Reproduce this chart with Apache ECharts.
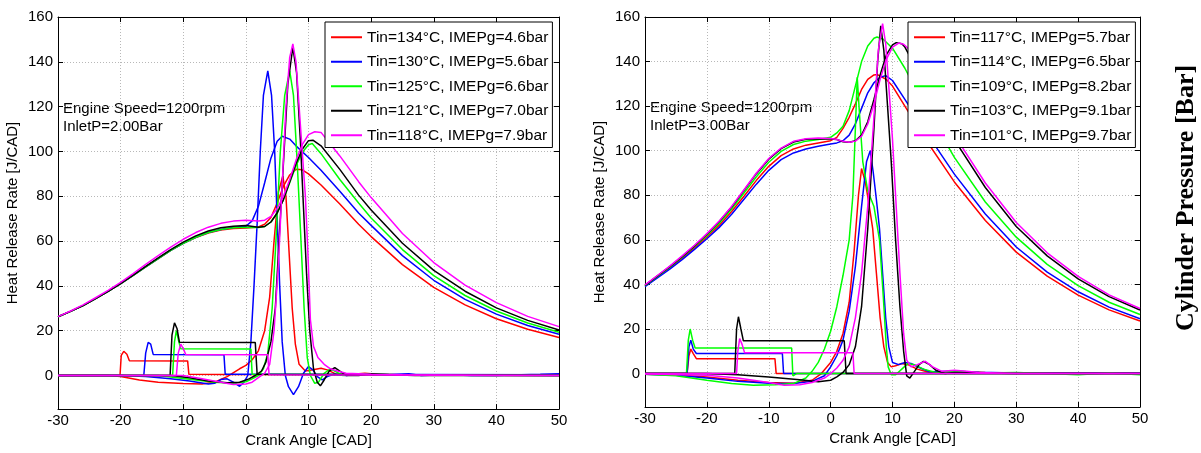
<!DOCTYPE html>
<html><head><meta charset="utf-8">
<script src="https://cdn.jsdelivr.net/npm/echarts@6/dist/echarts.min.js"></script>
<style>html,body{margin:0;padding:0;background:#fff}#c{width:1201px;height:453px}</style>
</head><body><div id="c"></div>
<script>
// ---------- labels ----------
const xTicks = [-30, -20, -10, 0, 10, 20, 30, 40, 50];
const yTicks = [0, 20, 40, 60, 80, 100, 120, 140, 160];
const colors = ['#ff0000', '#0000ff', '#00ff00', '#000000', '#ff00ff'];
const L_names = ['Tin=134°C, IMEPg=4.6bar', 'Tin=130°C, IMEPg=5.6bar', 'Tin=125°C, IMEPg=6.6bar', 'Tin=121°C, IMEPg=7.0bar', 'Tin=118°C, IMEPg=7.9bar'];
const R_names = ['Tin=117°C, IMEPg=5.7bar', 'Tin=114°C, IMEPg=6.5bar', 'Tin=109°C, IMEPg=8.2bar', 'Tin=103°C, IMEPg=9.1bar', 'Tin=101°C, IMEPg=9.7bar'];
const L_note = ['Engine Speed=1200rpm', 'InletP=2.00Bar'];
const R_note = ['Engine Speed=1200rpm', 'InletP=3.00Bar'];

// ---------- LEFT panel (InletP 2.00 bar): cylinder pressure ----------
const L_P_red = [[-30,26.2],[-28,28.6],[-26,31.2],[-24,34.3],[-22,37.5],[-20,41],[-18,44.7],[-16,48.5],[-14,52.2],[-12,55.8],[-10,59],[-8,61.6],[-6,63.6],[-4,64.9],[-2,65.6],[0,65.8],[1,66],[2,66.3],[3,67.5],[4,70.5],[5,77],[6,84.5],[7,89.5],[8,92],[9,91.8],[10,90],[12,85],[15,76.5],[18,67.5],[20,62],[25,49.5],[30,39.3],[35,31.5],[40,25.3],[45,20.6],[50,17]];
const L_P_blue = [[-30,26.2],[-28,28.6],[-26,31.2],[-24,34.3],[-22,37.5],[-20,41],[-18,44.7],[-16,48.5],[-14,52.2],[-12,55.8],[-10,59],[-8,61.7],[-6,63.8],[-4,65.2],[-2,66],[0,66.6],[1,69],[2,75.5],[3,86],[4,97],[5,104.5],[5.8,106.8],[7,105.5],[8,102.5],[10,97.3],[12,91.6],[15,82.2],[18,72.5],[20,67],[25,53.5],[30,42.5],[35,34],[40,27.4],[45,22.3],[50,18.4]];
const L_P_green = [[-30,26.2],[-28,28.6],[-26,31.2],[-24,34.3],[-22,37.5],[-20,41],[-18,44.7],[-16,48.5],[-14,52.2],[-12,55.8],[-10,59],[-8,61.7],[-6,63.8],[-4,65.2],[-2,65.9],[0,66.2],[2,66],[3,66.5],[4,68.5],[5,72.5],[6,78.5],[7,86],[8,93.5],[9,99.5],[10,103],[10.6,103.5],[12,99],[15,87.5],[18,77],[20,70.3],[25,56.2],[30,44.6],[35,35.7],[40,28.8],[45,23.4],[50,19.3]];
const L_P_black = [[-30,26.2],[-28,28.6],[-26,31.2],[-24,34.3],[-22,37.5],[-20,41],[-18,44.8],[-16,48.7],[-14,52.5],[-12,56.2],[-10,59.5],[-8,62.3],[-6,64.5],[-4,65.9],[-2,66.6],[0,66.9],[2,66.2],[3,66.5],[4,68.5],[5,72.5],[6,78.5],[7,86.5],[8,94.5],[9,101],[10,104.8],[10.7,105],[12,102.5],[15,92],[18,80.5],[20,73.9],[25,59],[30,46.9],[35,37.6],[40,30.2],[45,24.6],[50,20.3]];
const L_P_magenta = [[-30,26.3],[-28,28.8],[-26,31.5],[-24,34.7],[-22,38],[-20,41.6],[-18,45.5],[-16,49.6],[-14,53.5],[-12,57.3],[-10,60.8],[-8,63.8],[-6,66.2],[-4,67.9],[-2,68.9],[0,69.3],[2,69],[3,69.3],[4,71],[5,74.5],[6,80],[7,87.5],[8,96],[9,103],[10,107.5],[11,108.8],[12,108.5],[15,98],[18,86.5],[20,79.4],[25,63.4],[30,50.4],[35,40.3],[40,32.5],[45,26.4],[50,21.8]];

// ---------- LEFT panel: heat release rate ----------
const L_H_red = [[-30,0],[-22,0],[-20,-0.5],[-17,-2],[-14,-3],[-10,-3.6],[-7,-3.8],[-5,-3],[-3,-0.5],[-1,3],[0,4.5],[1,7],[2,11],[3,20],[3.8,35],[4.5,60],[5.2,82],[5.9,89],[6.4,80],[6.9,55],[7.4,30],[7.9,14],[8.5,5],[9.5,2],[10.5,2.5],[12,3.2],[13,2.5],[14.5,0.5],[17,0.5],[19,1],[21,0.5],[25,0.3],[30,0.3],[35,0.2],[40,0.2],[50,0.3]];
const L_H_blue = [[-30,0],[-20,0],[-16,-0.5],[-12,-1.5],[-9,-2.5],[-6,-3.8],[-5,-3.5],[-4,-1.8],[-3,-1.5],[-2,-3],[-1,-4.8],[-0.3,-3],[0.3,0],[0.8,15],[1.3,40],[1.8,68],[2.3,100],[2.8,125],[3.5,136],[4.1,125],[4.6,100],[5.0,70],[5.4,40],[5.8,15],[6.3,0],[6.8,-5],[7.6,-8.5],[8.4,-5],[9.2,1],[10,4],[10.7,2.5],[11.4,-0.5],[12.2,-2],[13,-0.5],[14,0.5],[16,0],[19,0.8],[21,0.5],[23,0.3],[26,0.8],[28,0],[32,0.3],[36,0],[40,0],[44,0.3],[47,0.5],[50,0.8]];
const L_H_green = [[-30,0],[-14,0],[-11,-1],[-8,-2],[-5,-3],[-2,-3.5],[0,-2.8],[1,-1.5],[2,0],[2.8,3],[3.5,10],[4.2,30],[4.8,60],[5.5,100],[6.2,125],[7.0,136],[7.6,125],[8.2,95],[8.8,60],[9.3,30],[9.8,8],[10.3,0],[11,-3.5],[11.6,-3],[12.5,1],[13.5,3],[14.5,1.5],[15.5,0],[18,0.5],[20,0.8],[24,0.3],[30,0.2],[40,0],[50,0]];
const L_H_black = [[-30,0],[-12,0],[-9,-1],[-6,-2.5],[-3,-3.2],[-1,-3],[0.5,-1.5],[1.5,0],[2.5,2],[3.2,6],[4,15],[4.7,30],[5.3,60],[6.0,95],[6.7,130],[7.5,146.5],[8.1,135],[8.7,105],[9.2,75],[9.7,45],[10.2,20],[10.8,3],[11.4,-3],[11.9,-4.6],[12.5,-2],[13.3,2],[14.2,3.5],[15,2],[16,0],[18,0],[20,0.8],[23,0.3],[27,0],[30,0],[40,0],[50,0]];
const L_H_magenta = [[-30,0],[-10,0],[-7,-1.5],[-4,-3],[-2,-4],[0,-3.8],[1,-3],[2,-1],[3,1],[3.8,5],[4.5,20],[5.2,50],[5.8,85],[6.4,120],[7.0,142],[7.5,148],[8.0,140],[8.5,120],[9.0,100],[9.5,80],[9.9,55],[10.3,25],[10.8,13],[11.5,8],[12.5,5],[13.5,3],[14.6,2],[16,1],[18,0.8],[20,0.6],[25,0.3],[30,0.2],[40,0],[50,0]];
// step traces drawn in the same colours
const L_S_red = [[-30,0],[-20.1,0],[-19.9,9],[-19.5,10.8],[-19,9.5],[-18.6,6.6],[-9.3,6.5],[-9.1,0.5],[-3,0.4],[50,0.2]];
const L_S_blue = [[-30,0],[-16.3,0],[-16,10],[-15.6,14.8],[-15.2,14],[-14.8,9.4],[-3.5,9.3],[-3.3,0.5],[1.5,0.5],[50,0.3]];
const L_S_green = [[-30,0],[-11.7,0],[-11.4,15],[-11.1,20],[-10.7,15],[-10.4,11.9],[0.8,11.8],[1.0,0.5],[50,0]];
const L_S_black = [[-30,0],[-12.1,0],[-11.8,18],[-11.4,23.5],[-11,21],[-10.6,14.8],[1.5,14.7],[1.8,0.5],[50,0]];
const L_S_magenta = [[-30,0],[-11.1,0],[-10.8,10],[-10.4,14],[-10,12],[-9.6,9.4],[3.5,9.3],[3.7,0.3],[50,0]];

// ---------- RIGHT panel (InletP 3.00 bar): cylinder pressure ----------
const R_P_red = [[-30,39.3],[-28,43.3],[-26,47.4],[-24,51.7],[-22,56.4],[-20,61.3],[-18,66.6],[-16,72.7],[-14,79.6],[-12,86.7],[-10,93],[-8,97.8],[-6,100.8],[-4,102.5],[-2,103.5],[0,104.5],[1,106],[2,110],[3,115],[4,121],[5,127.5],[6,132],[7,134],[7.5,134.2],[9,132],[10,129],[12,120],[15,106.5],[20,86],[25,68.7],[30,54.5],[35,43.7],[40,35.2],[45,28.6],[50,23.6]];
const R_P_blue = [[-30,39],[-28,42.9],[-26,46.9],[-24,51.1],[-22,55.7],[-20,60.5],[-18,65.6],[-16,71.5],[-14,78.2],[-12,85],[-10,91.2],[-8,96],[-6,99],[-4,100.8],[-2,102],[0,103],[1,103.5],[2,104.5],[3,107],[4,112],[5,119],[6,126],[7,130.5],[8,133],[8.9,133.7],[10,131.5],[12,123],[15,110],[20,89.5],[25,71.6],[30,56.8],[35,45.5],[40,36.7],[45,29.8],[50,24.6]];
const R_P_green = [[-30,39.5],[-28,43.6],[-26,47.8],[-24,52.2],[-22,57],[-20,62],[-18,67.5],[-16,73.8],[-14,81],[-12,88.3],[-10,94.8],[-8,99.7],[-6,102.8],[-4,104.3],[-2,105],[0,106],[1,108],[2,111],[3,118],[4,129],[5,140],[6,147],[7,150.5],[7.5,151],[8.5,150],[10,146],[12,137],[15,121],[20,97],[25,77],[30,61.2],[35,49],[40,39.5],[45,32],[50,26.5]];
const R_P_black = [[-30,39.6],[-28,43.8],[-26,48],[-24,52.5],[-22,57.3],[-20,62.5],[-18,68.2],[-16,74.7],[-14,82.2],[-12,89.7],[-10,96.2],[-8,100.9],[-6,103.9],[-4,105.1],[-2,105.4],[0,105.3],[1,105],[2,104],[3,103.8],[4,104.5],[5,107],[6,113],[7,123],[8,134],[9,143],[10,147.5],[10.6,148.5],[11.5,148],[12,146.5],[15,131],[20,105],[25,83.5],[30,66],[35,52.8],[40,42.5],[45,34.5],[50,28.5]];
const R_P_magenta = [[-30,39.8],[-28,44],[-26,48.2],[-24,52.8],[-22,57.6],[-20,62.8],[-18,68.5],[-16,75],[-14,82.5],[-12,90],[-10,96.5],[-8,101.2],[-6,104.2],[-4,105.4],[-2,105.7],[0,105.5],[1,105],[2,104.2],[3,103.8],[4,104.3],[5,106.5],[6,112],[7,121],[8,132],[9,141],[10,146.5],[11,148.3],[11.8,147.8],[12.5,146],[15,133],[20,107],[25,85.5],[30,67.8],[35,54.2],[40,43.6],[45,35.3],[50,29.2]];

// ---------- RIGHT panel: heat release rate ----------
const R_H_red = [[-30,-0.3],[-25,-0.5],[-20,-1.5],[-15,-3],[-10,-4],[-6,-4.3],[-3,-3],[-1.5,0],[0,5],[1,10],[2,18],[3,32],[3.8,55],[4.5,80],[5.0,92],[5.6,86],[6.2,76],[6.8,65],[7.4,45],[8.0,25],[8.6,12],[9.2,5],[9.8,3],[10.5,3.5],[11.5,4.5],[12.5,4],[14,2],[16,0.5],[20,1],[25,0.5],[30,0.3],[40,0.2],[50,0.2]];
const R_H_blue = [[-30,-0.3],[-25,-0.8],[-20,-2],[-15,-3.5],[-10,-4.3],[-6,-4.5],[-3,-3.5],[-1,-1],[0,3],[1,8],[2,15],[3,28],[4,48],[5,75],[5.8,95],[6.4,100],[6.9,90],[7.4,78],[7.9,65],[8.4,45],[8.9,25],[9.4,12],[10,5],[11,4],[12,5],[13,4.5],[14.5,2.5],[16,0.8],[20,1],[24,0.6],[30,0.3],[40,0.2],[50,0.2]];
const R_H_green = [[-30,-0.3],[-25,-1],[-20,-3],[-16,-4.5],[-12.5,-5.2],[-9,-5],[-6,-4.5],[-4,-2],[-3,1],[-2,5],[-1,11],[0,19],[1,30],[2,44],[3,60],[3.6,80],[4.0,110],[4.3,133],[4.7,115],[5.2,95],[6,82],[7,75],[7.9,60],[8.5,35],[9,12],[9.3,3],[9.8,-0.5],[10.5,-0.5],[11.5,2],[12.5,4.5],[13.5,4],[15,2],[17,0.5],[20,1],[22,0.8],[25,0.3],[30,0.5],[35,0],[40,-0.5],[45,0.3],[50,-0.5]];
const R_H_black = [[-30,0],[-20,0],[-15,-0.5],[-10,-1.5],[-5,-2.8],[-2,-3.7],[0,-3],[1,-1.5],[2,0.5],[3,4],[4,12],[5,30],[6,65],[7,110],[7.6,140],[8.1,156],[8.6,145],[9.2,120],[9.8,95],[10.5,60],[11.2,30],[11.8,10],[12.3,-1],[12.8,-2],[13.3,0],[14.3,4],[15,5.5],[16,4],[17,1.5],[18.5,0],[20,0.5],[25,0.3],[30,0],[50,0]];
const R_H_magenta = [[-30,-0.2],[-20,-0.8],[-15,-2],[-10,-4],[-7.5,-5.2],[-5,-5],[-3,-4],[-1,-2],[0,0],[1,2.5],[2,6],[3,12],[4,25],[5,45],[6,75],[7,115],[7.7,145],[8.4,157],[8.9,148],[9.5,125],[10,105],[10.6,75],[11.2,45],[11.8,18],[12.3,6],[13,3],[14,4],[15.3,5.5],[16.5,3],[18,1],[20,1.5],[22,1],[24,0.5],[30,0],[50,0]];
const R_S_red = [[-30,0],[-23.2,0],[-22.9,8],[-22.6,11],[-22.2,9],[-21.7,6.7],[-9,6.7],[-8.8,0],[50,0]];
const R_S_blue = [[-30,0],[-23.2,0],[-22.9,12],[-22.6,15],[-22.2,11],[-21.7,9],[-7.8,9],[-7.6,0],[50,0]];
const R_S_green = [[-30,0],[-23.3,0],[-23.0,15],[-22.7,20],[-22.3,15],[-21.9,11.5],[-6.3,11.5],[-6.1,-1],[-5.5,0],[50,0]];
const R_S_black = [[-30,0],[-15.5,0],[-15.2,20],[-14.9,25.5],[-14.5,20],[-14.1,14.7],[2.2,14.7],[2.5,0],[50,0]];
const R_S_magenta = [[-30,0],[-15.2,0],[-15.0,10],[-14.7,15.7],[-14.3,13],[-13.9,9.3],[3.6,9.3],[3.8,0],[50,0]];

// ---------- build ----------
const FONT = 'Liberation Sans, Arial, sans-serif';
const L_sets = [[L_P_red, L_H_red, L_S_red], [L_P_blue, L_H_blue, L_S_blue], [L_P_green, L_H_green, L_S_green], [L_P_black, L_H_black, L_S_black], [L_P_magenta, L_H_magenta, L_S_magenta]];
const R_sets = [[R_P_red, R_H_red, R_S_red], [R_P_blue, R_H_blue, R_S_blue], [R_P_green, R_H_green, R_S_green], [R_P_black, R_H_black, R_S_black], [R_P_magenta, R_H_magenta, R_S_magenta]];

const series = [];
function addPanel(sets, names, axisIdx) {
  sets.forEach((grp, i) => {
    grp.forEach(d => {
      series.push({
        type: 'line', name: names[i], data: d,
        xAxisIndex: axisIdx, yAxisIndex: axisIdx,
        showSymbol: false, symbol: 'none', smooth: false,
        lineStyle: { color: colors[i], width: 1.5 },
        itemStyle: { color: colors[i] },
        emphasis: { disabled: true }, animation: false, silent: true
      });
    });
  });
}
addPanel(L_sets, L_names, 0);
addPanel(R_sets, R_names, 2);

function xAxes(gi) {
  return [{
    gridIndex: gi, type: 'value', min: -30, max: 50, interval: 10, position: 'bottom',
    axisLine: { show: true, onZero: false, lineStyle: { color: '#000', width: 1 } },
    axisTick: { show: true, inside: true, length: 5, lineStyle: { color: '#000' } },
    axisLabel: { color: '#000', fontSize: 15, fontFamily: FONT, margin: 4, customValues: xTicks },
    splitLine: { show: true, lineStyle: { color: '#b8b8b8', type: [1, 2], width: 1 } },
    name: 'Crank Angle [CAD]', nameLocation: 'middle', nameGap: 21,
    nameTextStyle: { color: '#000', fontSize: 15, fontFamily: FONT }
  }, {
    gridIndex: gi, type: 'value', min: -30, max: 50, interval: 10, position: 'top',
    axisLine: { show: true, onZero: false, lineStyle: { color: '#000', width: 1 } },
    axisTick: { show: true, inside: true, length: 5, lineStyle: { color: '#000' } },
    axisLabel: { show: false }, splitLine: { show: false }
  }];
}
function yAxes(gi) {
  return [{
    gridIndex: gi, type: 'value', min: -15, max: 160, position: 'left',
    axisLine: { show: true, onZero: false, lineStyle: { color: '#000', width: 1 } },
    axisTick: { show: true, inside: true, length: 5, lineStyle: { color: '#000' }, customValues: yTicks },
    axisLabel: { color: '#000', fontSize: 15, fontFamily: FONT, margin: 5, customValues: yTicks },
    splitLine: { show: true, lineStyle: { color: '#b8b8b8', type: [1, 2], width: 1 } },
    name: 'Heat Release Rate [J/CAD]', nameLocation: 'middle', nameGap: 38, nameRotate: 90,
    nameTextStyle: { color: '#000', fontSize: 15, fontFamily: FONT }
  }, {
    gridIndex: gi, type: 'value', min: -15, max: 160, position: 'right',
    axisLine: { show: true, onZero: false, lineStyle: { color: '#000', width: 1 } },
    axisTick: { show: true, inside: true, length: 5, lineStyle: { color: '#000' }, customValues: yTicks },
    axisLabel: { show: false }, splitLine: { show: false }
  }];
}

function legend(names, left) {
  return {
    data: names, orient: 'vertical', left: left, top: 22,
    icon: 'rect', itemWidth: 31, itemHeight: 2, itemGap: 8,
    padding: [7, 4, 4, 6], selectedMode: false,
    backgroundColor: '#fff', borderColor: '#000', borderWidth: 1,
    textStyle: { color: '#000', fontSize: 15.5, fontFamily: FONT, lineHeight: 16.5 }
  };
}

const chart = echarts.init(document.getElementById('c'), null, { renderer: 'canvas' });
chart.setOption({
  backgroundColor: '#fff',
  animation: false,
  grid: [
    { left: 58, top: 17, width: 501, height: 395, containLabel: false },
    { left: 645, top: 17, width: 495, height: 390, containLabel: false }
  ],
  xAxis: [...xAxes(0), ...xAxes(1)],
  yAxis: [...yAxes(0), ...yAxes(1)],
  legend: [legend(L_names, 325), legend(R_names, 908)],
  graphic: [
    { type: 'text', left: 63, top: 100, style: { text: L_note.join('\n'), fill: '#000', font: '15px ' + FONT, lineHeight: 18 } },
    { type: 'text', left: 650, top: 99, style: { text: R_note.join('\n'), fill: '#000', font: '15px ' + FONT, lineHeight: 18 } },
    { type: 'text', x: 1186, y: 198, rotation: Math.PI / 2,
      style: { text: 'Cylinder Pressure [Bar]', fill: '#000', font: 'bold 26px Liberation Serif, Times New Roman, serif', align: 'center', verticalAlign: 'middle' } }
  ],
  series: series
});
</script></body></html>
